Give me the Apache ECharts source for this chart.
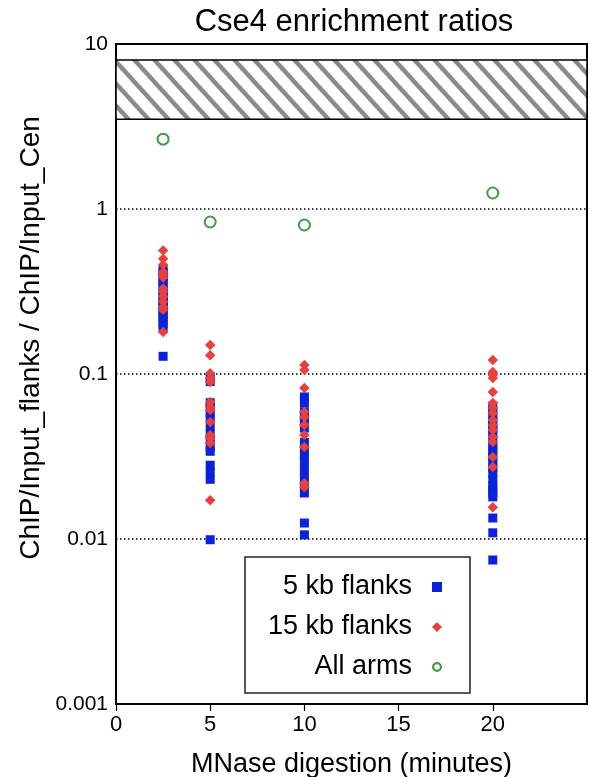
<!DOCTYPE html>
<html><head><meta charset="utf-8">
<script src="https://cdn.jsdelivr.net/npm/echarts@6/dist/echarts.min.js"></script>
<style>html,body{margin:0;padding:0;background:#fff}#c{width:589px;height:777px}</style>
</head><body><div id="c"></div>
<script>
// ---- data ----
const xTicks = [0, 5, 10, 15, 20];
const yTickLabels = ['0.001', '0.01', '0.1', '1', '10'];
const timePoints = [2.5, 5, 10, 20];
const hatchRange = [3.5, 8];

const flank5_t2_5 = [0.43, 0.415, 0.40, 0.385, 0.37, 0.35, 0.335, 0.32, 0.305, 0.29, 0.28, 0.27, 0.26, 0.25, 0.24, 0.23, 0.22, 0.21, 0.20, 0.19, 0.128];
const flank5_t5 = [0.096, 0.090, 0.067, 0.063, 0.058, 0.054, 0.048, 0.043, 0.040, 0.036, 0.034, 0.028, 0.0255, 0.023, 0.0099];
const flank5_t10 = [0.0726, 0.0667, 0.059, 0.055, 0.051, 0.047, 0.0385, 0.035, 0.032, 0.0293, 0.0262, 0.0233, 0.021, 0.019, 0.0125, 0.0106];
const flank5_t20 = [0.064, 0.060, 0.056, 0.052, 0.049, 0.046, 0.043, 0.040, 0.037, 0.035, 0.033, 0.031, 0.029, 0.027, 0.025, 0.023, 0.021, 0.020, 0.019, 0.018, 0.0134, 0.0109, 0.00746];

const flank15_t2_5 = [0.56, 0.50, 0.46, 0.415, 0.40, 0.385, 0.33, 0.315, 0.295, 0.275, 0.255, 0.245, 0.18];
const flank15_t5 = [0.150, 0.130, 0.101, 0.0946, 0.0895, 0.0677, 0.0631, 0.0605, 0.0512, 0.0427, 0.0409, 0.0382, 0.0172];
const flank15_t10 = [0.1134, 0.1057, 0.0822, 0.0589, 0.0549, 0.0491, 0.0427, 0.0361, 0.0218, 0.0206];
const flank15_t20 = [0.1216, 0.1028, 0.0986, 0.0946, 0.0778, 0.0667, 0.0622, 0.0580, 0.0526, 0.0491, 0.0458, 0.0415, 0.0387, 0.0314, 0.0273, 0.0156];

const allArms = [2.65, 0.834, 0.80, 1.25];

// ---- build ----
function pts(lists) {
  const out = [];
  lists.forEach((vals, i) => vals.forEach(v => out.push([timePoints[i], v])));
  return out;
}
const data5 = pts([flank5_t2_5, flank5_t5, flank5_t10, flank5_t20]);
const data15 = pts([flank15_t2_5, flank15_t5, flank15_t10, flank15_t20]);
const dataArms = allArms.map((v, i) => [timePoints[i], v]);

function hatch() {
  const w = 20, h = 22;
  const c = document.createElement('canvas');
  c.width = w; c.height = h;
  const g = c.getContext('2d');
  g.fillStyle = '#fff'; g.fillRect(0, 0, w, h);
  g.strokeStyle = '#8a8a8a'; g.lineWidth = 4.5;
  for (let k = -1; k <= 1; k++) {
    g.beginPath();
    g.moveTo(k * w - w * 0.5, -h * 0.5);
    g.lineTo(k * w + w * 1.5, h * 1.5);
    g.stroke();
  }
  return c;
}

const FONT = '"Liberation Sans", Arial, Helvetica, sans-serif';
const GREEN = '#17801a';
const RING = 'path://M0,5a5,5 0 1,0 10,0a5,5 0 1,0 -10,0zM2.2,5a2.8,2.8 0 1,1 5.6,0a2.8,2.8 0 1,1 -5.6,0z';
const chart = echarts.init(document.getElementById('c'), null, {renderer: 'canvas'});
chart.setOption({
  animation: false,
  backgroundColor: '#fff',
  title: {
    text: 'Cse4 enrichment ratios',
    left: 349, top: 2, textAlign: 'center',
    textStyle: {fontFamily: FONT, fontSize: 31, fontWeight: 'normal', color: '#000'}
  },
  grid: {left: 116, right: 2, top: 44, bottom: 73, show: true, borderColor: '#000', borderWidth: 2,
    backgroundColor: 'transparent', containLabel: false, outerBoundsMode: 'none'},
  xAxis: {
    type: 'value', min: 0, max: 25, interval: 5,
    name: 'MNase digestion (minutes)', nameLocation: 'middle', nameGap: 47,
    nameTextStyle: {fontFamily: FONT, fontSize: 27, color: '#000'},
    axisLine: {show: true, lineStyle: {color: '#000', width: 2}},
    axisTick: {show: true, length: 7, lineStyle: {color: '#000', width: 1.2}, customValues: xTicks},
    axisLabel: {fontFamily: FONT, fontSize: 22, color: '#000', margin: 10, customValues: xTicks},
    splitLine: {show: false}
  },
  yAxis: {
    type: 'log', logBase: 10, min: 0.001, max: 10,
    axisLine: {show: true, lineStyle: {color: '#000', width: 2}},
    axisTick: {show: false},
    axisLabel: {fontFamily: FONT, fontSize: 21, color: '#000', margin: 8,
      formatter: v => yTickLabels[Math.round(Math.log10(v)) + 3]},
    splitLine: {show: true, lineStyle: {color: '#000', width: 1.5, type: [1.5, 2.5]}}
  },
  legend: {
    orient: 'vertical', left: 245, top: 557,
    align: 'right', selectedMode: false,
    backgroundColor: '#fff', borderColor: '#222', borderWidth: 1.5, borderRadius: 0,
    padding: [15, 28, 11, 10],
    itemWidth: 10, itemHeight: 10, itemGap: 10,
    textStyle: {fontFamily: FONT, fontSize: 27, color: '#000', width: 157, align: 'right', lineHeight: 30, padding: [0, 15, 0, 0]},
    data: [
      {name: '5 kb flanks'},
      {name: '15 kb flanks'},
      {name: 'All arms', icon: RING, itemStyle: {color: GREEN, borderWidth: 0}}
    ]
  },
  series: [
    {
      name: '5 kb flanks', type: 'scatter', symbol: 'rect', symbolSize: 9,
      itemStyle: {color: '#0a22dc', opacity: 1},
      data: data5, z: 2,
      markArea: {
        silent: true,
        itemStyle: {color: {image: hatch(), repeat: 'repeat'}, borderColor: '#000', borderWidth: 1.5},
        label: {show: false},
        emphasis: {disabled: true},
        data: [[{coord: [0, hatchRange[1]]}, {coord: [25, hatchRange[0]]}]]
      }
    },
    {
      name: '15 kb flanks', type: 'scatter', symbol: 'diamond', symbolSize: 10.5,
      itemStyle: {color: '#e8403e', opacity: 1},
      data: data15, z: 3
    },
    {
      name: 'All arms', type: 'scatter', symbol: 'emptyCircle', symbolSize: 11,
      itemStyle: {color: GREEN, borderColor: GREEN, borderWidth: 2.2},
      data: dataArms, z: 4
    }
  ],
  graphic: [{
    type: 'text', x: 31, y: 338, rotation: Math.PI / 2,
    style: {text: 'ChIP/Input_flanks / ChIP/Input_Cen', font: '28px ' + FONT, fill: '#000', align: 'center', verticalAlign: 'middle'}
  }]
});
</script></body></html>
